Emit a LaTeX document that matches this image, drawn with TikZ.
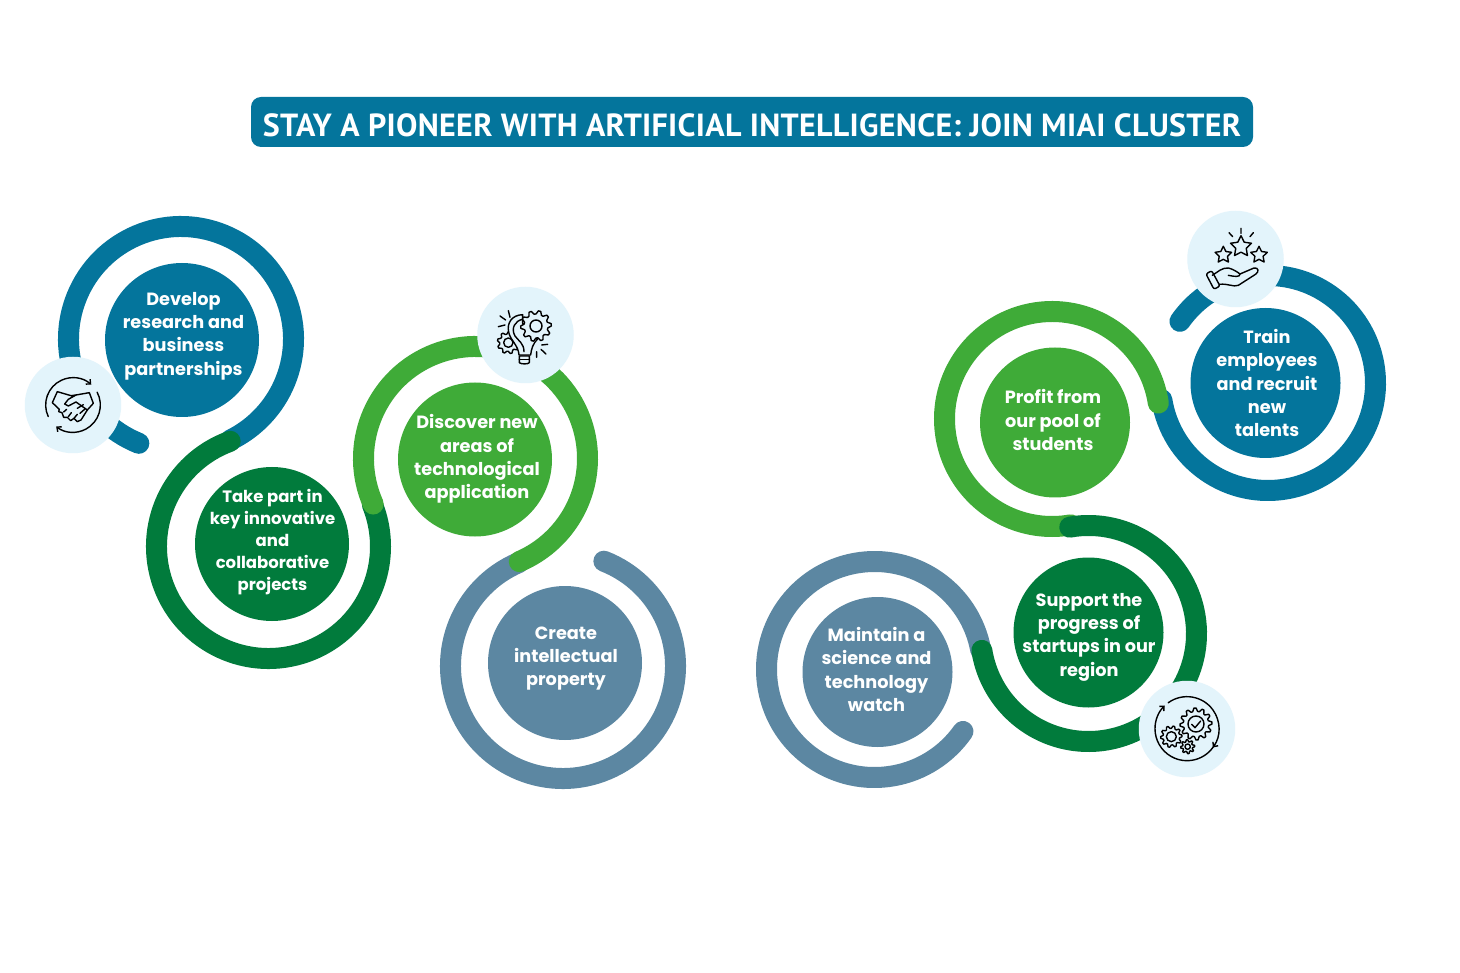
\documentclass[tikz,border=0pt]{standalone}
\usepackage{fontspec}
\usetikzlibrary{arrows.meta}
\newfontfamily\labfont{Poppins}
\newfontfamily\titlefont{PT Sans}[LetterSpace=1]
\definecolor{cblue}{HTML}{04759C}
\definecolor{cdark}{HTML}{017B3C}
\definecolor{clight}{HTML}{3FAB38}
\definecolor{cgrey}{HTML}{5C87A2}
\definecolor{cicon}{HTML}{E3F4FB}
\tikzset{
  ring/.style={line width=21pt,line cap=round},
  disk/.style={circle,inner sep=0pt,minimum size=#1,draw=none},
  iconbg/.style={circle,inner sep=0pt,minimum size=96.5pt,fill=cicon},
  lab/.style={text=white,align=center,inner sep=0pt,font=\labfont\bfseries\fontsize{17.7}{23.3}\selectfont},
  labs/.style={text=white,align=center,inner sep=0pt,font=\labfont\bfseries\fontsize{16.5}{22}\selectfont},
  ic/.style={draw=black,line width=1.4pt,line join=round,line cap=round,fill=none},
  arr/.style={ic,-{Straight Barb[length=3.5pt,width=6.5pt,line width=1.4pt]}},
}
\newcommand\ringarc[6]{\draw[ring,color=#1] ({#2+#4*cos(#5)},{#3-#4*sin(#5)}) arc[start angle=#5,end angle=#6,radius=#4 pt];}
\newcommand\icarc[6]{\draw[#1] ({#2+#4*cos(#5)},{#3-#4*sin(#5)}) arc[start angle=#5,end angle=#6,radius=#4/3 pt];}
\newcommand\cog[5]{% cx cy outer inner teeth
  \pgfmathtruncatemacro\gearN{4*#5+1}%
  \draw[ic,fill=cicon] plot[domain=0:360,samples=\gearN,variable=\t] ({#1+(#4+(#3-#4)*(cos(#5*\t+45)>0))*cos(\t)},{#2+(#4+(#3-#4)*(cos(#5*\t+45)>0))*sin(\t)}) -- cycle;}
\newcommand\starry[3]{% cx cy R
  \draw[ic,fill=cicon] plot[domain=90:450,samples=11,variable=\t] ({#1+#3*(0.5+0.5*(cos(5*(\t-90))>0.5))*cos(\t)},{#2-#3*(0.5+0.5*(cos(5*(\t-90))>0.5))*sin(\t)}) -- cycle;}
\begin{document}
\begin{tikzpicture}[x=1pt,y=-1pt]
\useasboundingbox (0,0) rectangle (1460,973);
\fill[white] (0,0) rectangle (1460,973);
% title
\node[fill=cblue,rounded corners=10pt,minimum width=1002pt,minimum height=50pt,inner sep=0pt] (titlebox) at (752,122) {};
\node[text=white,inner sep=0pt,font=\titlefont\bfseries\fontsize{32}{36}\selectfont] (title) at (752,125) {STAY A PIONEER WITH ARTIFICIAL INTELLIGENCE: JOIN MIAI CLUSTER};
% left chain
\ringarc{cblue}{181}{339}{112.5}{248}{-64}
\ringarc{cdark}{268.5}{546.5}{112}{110}{382}
\ringarc{cgrey}{563}{666}{112.5}{113}{428.7}
\ringarc{clight}{475.5}{458.5}{112}{204}{-67}
% right chain
\ringarc{cblue}{1268}{383}{107.5}{145}{-171}
\ringarc{clight}{1052}{419}{107.5}{8.5}{280}
\ringarc{cgrey}{874.5}{669.5}{108}{10.4}{325}
\ringarc{cdark}{1088.5}{633.5}{108}{100}{-171}
% disks
\node[disk=154pt,fill=cblue] (d1) at (182,340) {};
\node[disk=154pt,fill=cdark] (d2) at (272,544) {};
\node[disk=154pt,fill=clight] (d3) at (475,459.5) {};
\node[disk=154pt,fill=cgrey] (d4) at (565,663) {};
\node[disk=150pt,fill=cgrey] (d5) at (877.5,672) {};
\node[disk=150pt,fill=cdark] (d6) at (1088.5,632.5) {};
\node[disk=150pt,fill=clight] (d7) at (1055,422.5) {};
\node[disk=150pt,fill=cblue] (d8) at (1265.5,383) {};
% labels
\node[lab] (t1) at (183.5,336) {Develop\\research and\\business\\partnerships};
\node[labs] (t2) at (272.5,542) {Take part in\\key innovative\\and\\collaborative\\projects};
\node[lab] (t3) at (477,459) {Discover new\\areas of\\technological\\application};
\node[lab] (t4) at (566,658.5) {Create\\intellectual\\property};
\node[lab] (t5) at (876.5,669.5) {Maintain a\\science and\\technology\\watch};
\node[lab] (t6) at (1089,637) {Support the\\progress of\\startups in our\\region};
\node[lab] (t7) at (1053,420) {Profit from\\our pool of\\students};
\node[lab] (t8) at (1267,383) {Train\\employees\\and recruit\\new\\talents};
% icon discs
\node[iconbg] (i1) at (73,405) {};
\node[iconbg] (i2) at (525.5,335) {};
\node[iconbg] (i3) at (1235.5,259) {};
\node[iconbg] (i4) at (1187,729) {};
% handshake icon
\begin{scope}[shift={(0,200)},x=0.33333pt,y=-0.33333pt]
  \icarc{arr}{219}{615}{82}{205}{48}
  \icarc{arr}{219}{615}{82}{28}{-128}
  \draw[ic] (172,575) -- (157,608) -- (178,628);
  \draw[ic] (172,575) -- (213,587) -- (228,585) -- (205,598) -- (194,612) -- (205,618) -- (228,606) -- (262,630);
  \draw[ic] (228,585) -- (268,578) -- (280,610) -- (262,630) -- (243,660) -- (232,665) -- (222,655) -- (212,662) -- (202,652) -- (191,652) -- (186,638) -- (176,635) -- (178,628);
  \draw[ic] (191,636) -- (200,628) (205,650) -- (214,638) (222,655) -- (232,643) (232,625) -- (250,614) (240,640) -- (256,626);
\end{scope}
% bulb icon
\begin{scope}[shift={(340,280)},x=0.33333pt,y=-0.33333pt]
  \cog{505}{188}{33}{26}{9}
  \draw[ic] (505,188) circle[radius=14];
  \draw[ic,fill=cicon] (548,104) .. controls (515,105) and (500,130) .. (506,156) .. controls (510,180) and (535,195) .. (537,225) -- (572,225) .. controls (574,205) and (580,190) .. (592,178) -- (548,130) -- cycle;
  \draw[ic] (548,118) .. controls (525,122) and (512,145) .. (525,168) .. controls (535,182) and (552,190) .. (552,215);
  \draw[ic] (538,228) -- (568,228) -- (568,248) .. controls (565,253) and (542,253) .. (538,248) -- cycle;
  \draw[ic] (538,238) -- (568,238);
  \cog{588}{138}{46}{36}{10}
  \draw[ic] (588,138) circle[radius=18];
  \draw[ic] (505,92) -- (510,112) (480,108) -- (497,120) (475,140) -- (495,135);
  \draw[ic] (605,195) -- (623,193) (603,208) -- (618,222) (590,215) -- (590,232);
\end{scope}
% stars icon
\begin{scope}[shift={(1130,200)},x=0.33333pt,y=-0.33333pt]
  \starry{333}{140}{33}
  \starry{280}{165}{26}
  \starry{387}{165}{26}
  \draw[ic] (333,85) -- (333,100) (297,98) -- (308,110) (370,98) -- (360,110);
  \draw[ic,rounded corners=2pt] (228,222) -- (245,212) -- (270,258) -- (252,268) -- cycle;
  \draw[ic] (247,226) .. controls (265,215) and (275,203) .. (295,204) .. controls (305,206) and (320,214) .. (330,222) -- (372,204) .. controls (385,202) and (388,214) .. (378,222) -- (325,256) .. controls (310,262) and (295,250) .. (268,253);
  \draw[ic] (330,222) .. controls (330,232) and (315,230) .. (295,226);
\end{scope}
% gears icon
\begin{scope}[shift={(950,640)},x=0.33333pt,y=-0.33333pt]
  \icarc{arr}{711}{266}{96}{-30}{-226}
  \icarc{arr}{711}{266}{96}{126}{-36}
  \cog{738}{252}{48}{38}{12}
  \draw[ic] (738,252) circle[radius=24];
  \draw[ic] (725,253) -- (735,263) -- (752,243);
  \cog{664}{290}{32}{25}{10}
  \draw[ic] (664,290) circle[radius=15];
  \cog{713}{320}{21}{15}{8}
  \draw[ic] (713,320) circle[radius=8];
\end{scope}
\end{tikzpicture}
\end{document}
